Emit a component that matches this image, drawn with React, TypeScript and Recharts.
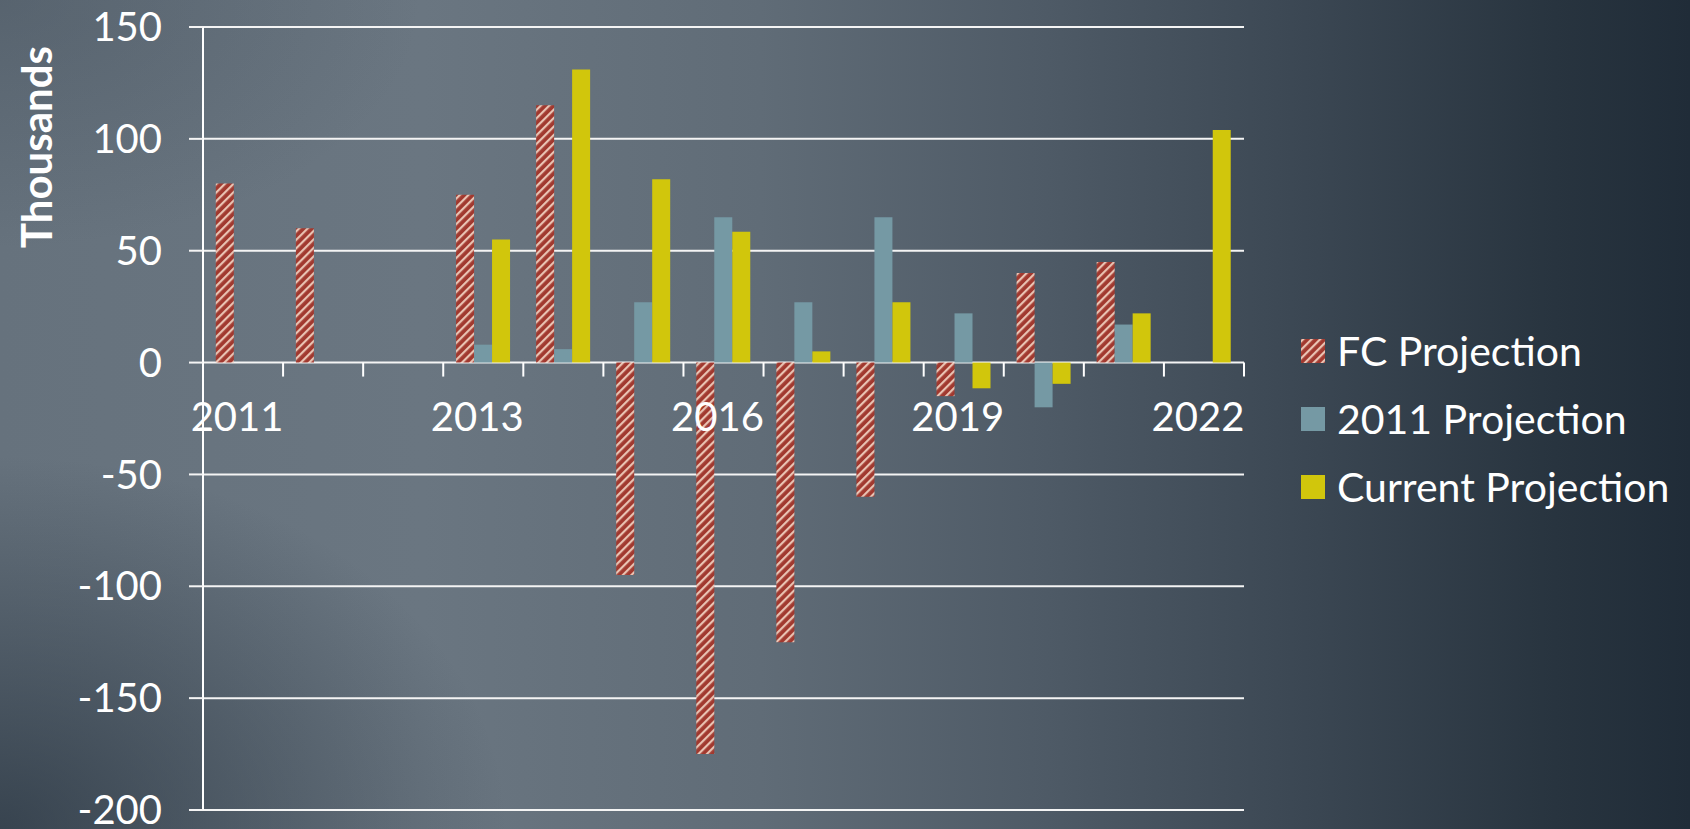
import React from 'react';
import { BarChart, Bar, XAxis, YAxis, CartesianGrid } from 'recharts';

// ---- data ----
const categories = ['2011', '2012 H1', '2012 H2', '2013', '2014', '2015', '2016', '2017', '2018', '2019', '2020', '2021', '2022'];
const fcProjection = [80, 60, null, 75, 115, -95, -175, -125, -60, -15, 40, 45, null];
const projection2011 = [null, null, null, 8, 6, 27, 65, 27, 65, 22, -20, 17, null];
const currentProjection = [null, null, null, 55, 131, 82, 58.5, 5, 27, -11.5, -9.5, 22, 104];
const yTicks = [-200, -150, -100, -50, 0, 50, 100, 150];
const seriesNames = ['FC Projection', '2011 Projection', 'Current Projection'];
const labelEvery = 3;

const data = categories.map((c, i) => ({
  year: c,
  fc: fcProjection[i],
  p2011: projection2011[i],
  cur: currentProjection[i],
}));

// ---- layout ----
const W = 1690;
const H = 829;
const MARGIN = { top: 27, right: 446, bottom: 0, left: 0 };
const X_AXIS_H = 19;
const Y_AXIS_W = 203;
const Y_MIN = -200;
const Y_MAX = 150;
const plotTop = MARGIN.top;
const plotBottom = H - MARGIN.bottom - X_AXIS_H;
const plotLeft = MARGIN.left + Y_AXIS_W;
const plotRight = W - MARGIN.right;
const zeroY = plotTop + ((Y_MAX - 0) / (Y_MAX - Y_MIN)) * (plotBottom - plotTop);
const band = (plotRight - plotLeft) / categories.length;

const FONT = 'Lato, "Open Sans", sans-serif';
const RED = '#a1392f';
const BLUE = '#7599a4';
const YELLOW = '#d1c60c';
const seriesFills = ['url(#fcStripes)', BLUE, YELLOW];

const XTick = (props: any) => {
  const { x, payload } = props;
  const i = payload.index;
  return (
    <g>
      <line x1={x + band / 2} x2={x + band / 2} y1={zeroY} y2={zeroY + 14} stroke="#ffffff" strokeWidth={2} />
      {i % labelEvery === 0 && (
        <text x={x - 6} y={zeroY + 68.5} textAnchor="middle" fill="#ffffff" fontSize={40} fontFamily={FONT}>
          {payload.value}
        </text>
      )}
    </g>
  );
};

const ThousandsLabel = () => (
  <text
    transform="translate(52,147) rotate(-90)"
    textAnchor="middle"
    fill="#ffffff"
    fontSize={42}
    fontWeight={700}
    fontFamily={FONT}
  >
    Thousands
  </text>
);

const LegendBox = () => (
  <svg width={400} height={220} style={{ position: 'absolute', left: 1290, top: 300 }}>
    {seriesNames.map((name, i) => {
      const cy = 51 + i * 68;
      return (
        <g key={name}>
          <rect x={11} y={cy - 12} width={24} height={24} fill={seriesFills[i]} />
          <text x={47} y={cy + 14.5} fill="#ffffff" fontSize={41} fontFamily={FONT}>
            {name}
          </text>
        </g>
      );
    })}
  </svg>
);

export default function App() {
  return (
    <div
      style={{
        position: 'absolute',
        left: 0,
        top: 0,
        width: W,
        height: H,
        overflow: 'hidden',
        background: [
          'radial-gradient(ellipse 30% 45% at 0% 100%, rgba(40,52,64,0.75) 0%, rgba(40,52,64,0) 100%)',
          'radial-gradient(ellipse 25% 30% at 0% 0%, rgba(60,72,84,0.35) 0%, rgba(60,72,84,0) 100%)',
          'linear-gradient(90deg, #66727d 0%, #6a7681 25%, #606c77 45%, #4e5a66 62%, #3a4652 78%, #28343f 92%, #202c38 100%)',
        ].join(', '),
      }}
    >
      <svg width={0} height={0} style={{ position: 'absolute' }}>
        <defs>
          <pattern id="fcStripes" patternUnits="userSpaceOnUse" width={6} height={6} patternTransform="rotate(45)">
            <rect x={0} y={0} width={6} height={6} fill={RED} />
            <rect x={0} y={0} width={2.2} height={6} fill="#e9c3b3" />
          </pattern>
        </defs>
      </svg>
      <BarChart
        width={W}
        height={H}
        data={data}
        margin={MARGIN}
        barCategoryGap="16%"
        barGap={0}
      >
        <CartesianGrid horizontal vertical={false} stroke="#f4f4f4" strokeWidth={2} />
        <XAxis
          dataKey="year"
          height={X_AXIS_H}
          interval={0}
          axisLine={false}
          tickLine={false}
          tick={<XTick />}
        />
        <YAxis
          width={Y_AXIS_W}
          domain={[Y_MIN, Y_MAX]}
          ticks={yTicks}
          interval={0}
          tickSize={14}
          tickMargin={27}
          axisLine={{ stroke: '#ffffff', strokeWidth: 2 }}
          tickLine={{ stroke: '#f4f4f4', strokeWidth: 2 }}
          tick={{ fill: '#ffffff', fontSize: 40, fontFamily: FONT }}
          label={<ThousandsLabel />}
        />
        <Bar dataKey="fc" name={seriesNames[0]} fill={seriesFills[0]} isAnimationActive={false} />
        <Bar dataKey="p2011" name={seriesNames[1]} fill={seriesFills[1]} isAnimationActive={false} />
        <Bar dataKey="cur" name={seriesNames[2]} fill={seriesFills[2]} isAnimationActive={false} />
      </BarChart>
      <LegendBox />
    </div>
  );
}
